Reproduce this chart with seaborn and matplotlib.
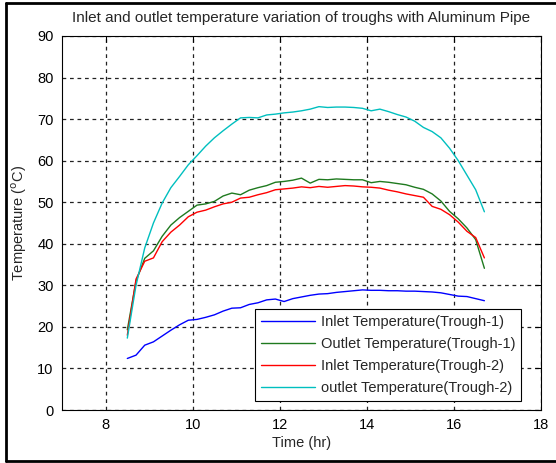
import numpy as np
import pandas as pd
import matplotlib
matplotlib.use("Agg")
import matplotlib.pyplot as plt
from matplotlib.lines import Line2D
import seaborn as sns

time_hr = [8.5, 8.7, 8.9, 9.1, 9.3, 9.5, 9.7, 9.9, 10.1, 10.3, 10.5, 10.7, 10.9,
           11.1, 11.3, 11.5, 11.7, 11.9, 12.1, 12.3, 12.5, 12.7, 12.9, 13.1, 13.3,
           13.5, 13.7, 13.9, 14.1, 14.3, 14.5, 14.7, 14.9, 15.1, 15.3, 15.5, 15.7,
           15.9, 16.1, 16.3, 16.5, 16.7]

inlet_t1 = [12.4, 13.2, 15.6, 16.4, 17.8, 19.2, 20.5, 21.6, 21.8, 22.3, 22.9, 23.8, 24.5,
            24.6, 25.4, 25.8, 26.5, 26.7, 26.1, 26.8, 27.2, 27.6, 27.9, 28.0, 28.3,
            28.5, 28.7, 28.9, 28.8, 28.8, 28.7, 28.7, 28.6, 28.6, 28.5, 28.4, 28.2,
            27.8, 27.4, 27.3, 26.8, 26.3]

outlet_t1 = [19.3, 31.0, 36.5, 38.3, 41.8, 44.5, 46.3, 47.8, 49.3, 49.6, 50.2, 51.5, 52.2,
             51.8, 52.9, 53.5, 54.0, 54.8, 55.0, 55.3, 55.8, 54.6, 55.5, 55.4, 55.6,
             55.5, 55.4, 55.4, 54.7, 55.0, 54.8, 54.5, 54.2, 53.6, 53.1, 52.0, 50.3,
             47.8, 46.0, 43.8, 41.0, 34.1]

inlet_t2 = [18.0, 31.5, 35.8, 36.6, 40.5, 42.8, 44.5, 46.5, 47.6, 48.1, 48.9, 49.6, 50.0,
            51.0, 51.2, 51.8, 52.3, 53.0, 53.2, 53.4, 53.7, 53.5, 53.8, 53.6, 53.8,
            54.0, 53.9, 53.7, 53.6, 53.4, 52.9, 52.5, 52.0, 51.6, 51.2, 49.0, 48.3,
            47.0, 45.2, 43.0, 41.5, 36.6]

outlet_t2 = [17.3, 30.0, 39.0, 45.0, 49.8, 53.5, 56.2, 59.0, 61.2, 63.5, 65.5, 67.2, 68.8,
             70.3, 70.4, 70.3, 71.0, 71.2, 71.5, 71.7, 72.0, 72.4, 73.0, 72.8, 72.9,
             72.9, 72.8, 72.6, 72.0, 72.4, 71.8, 71.1, 70.5, 69.5, 68.0, 67.0, 65.5,
             63.0, 60.0, 56.5, 53.0, 47.7]

series_names = ["Inlet Temperature(Trough-1)", "Outlet Temperature(Trough-1)",
                "Inlet Temperature(Trough-2)", "outlet Temperature(Trough-2)"]
series_colors = ["#0000ff", "#1f7a1f", "#ff0000", "#00bfbf"]

x_ticks = [8, 10, 12, 14, 16, 18]
y_ticks = [0, 10, 20, 30, 40, 50, 60, 70, 80, 90]

df = pd.concat([
    pd.DataFrame({"Time": time_hr, "Temp": vals, "Series": name})
    for name, vals in zip(series_names, [inlet_t1, outlet_t1, inlet_t2, outlet_t2])
])

sns.set_style("white")
plt.rcParams["font.family"] = ["Liberation Sans", "DejaVu Sans"]

fig = plt.figure(figsize=(5.56, 4.63), dpi=100)
ax = fig.add_axes([62/556, 53/463, (541-62)/556, (410-36)/463])

sns.lineplot(data=df, x="Time", y="Temp", hue="Series", hue_order=series_names,
             palette=series_colors, linewidth=1.0, ax=ax, legend=False,
             estimator=None, sort=False)

ax.set_xlim(7, 18)
ax.set_ylim(0, 90)
ax.set_xticks(x_ticks)
ax.set_yticks(y_ticks)
ax.tick_params(direction="in", length=4, width=0.8, top=True, right=True,
               labelsize=10.5, pad=6, colors="black")
ax.grid(True, color="#222222", linestyle=(0, (3, 3)), linewidth=0.9)
for s in ax.spines.values():
    s.set_color("black")
    s.set_linewidth(0.8)

ax.set_xlabel("Time (hr)", fontsize=10.5, labelpad=3)
ax.set_ylabel("Temperature ($^{\\rm o}$C)", fontsize=10.5, labelpad=6)
ax.set_title("Inlet and outlet temperature variation of troughs with Aluminum Pipe",
             fontsize=11, pad=10)

handles = [Line2D([0], [0], color=c, lw=1.0) for c in series_colors]
leg = ax.legend(handles, series_names, loc="lower right",
                bbox_to_anchor=(521/556, 62/463), bbox_transform=fig.transFigure,
                fontsize=10.5, frameon=True, fancybox=False, framealpha=1,
                edgecolor="black", handlelength=3.7, borderpad=0.4,
                labelspacing=0.55, handletextpad=0.4, borderaxespad=0)
leg.get_frame().set_linewidth(0.8)

# figure frame
W, H = 556, 463
fig.add_artist(Line2D([6/W, 1.0], [1 - 3/H, 1 - 3/H], color="black", lw=2, transform=fig.transFigure))
fig.add_artist(Line2D([6/W, 6/W], [1 - 3/H, 1 - 461/H], color="black", lw=2, transform=fig.transFigure))
fig.add_artist(Line2D([6/W, 1.0], [1 - 461/H, 1 - 461/H], color="black", lw=2, transform=fig.transFigure))

fig.savefig("out.png", dpi=100)
